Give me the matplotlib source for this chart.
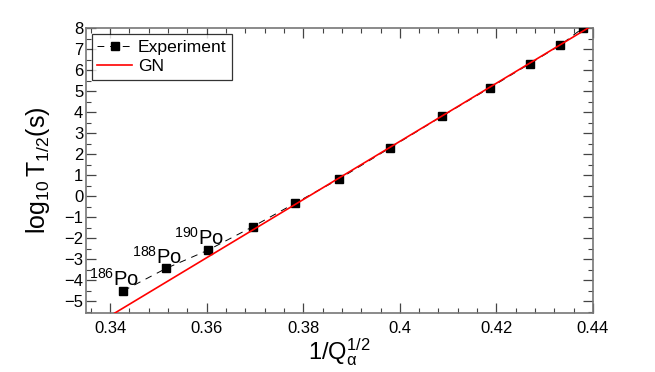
import matplotlib
matplotlib.use("Agg")
import matplotlib.pyplot as plt
from matplotlib.ticker import AutoMinorLocator, MultipleLocator, FuncFormatter

plt.rcParams['font.family'] = ['Liberation Sans', 'DejaVu Sans']
plt.rcParams['mathtext.fontset'] = 'custom'
plt.rcParams['mathtext.rm'] = 'Liberation Sans'
plt.rcParams['mathtext.it'] = 'Liberation Sans'
plt.rcParams['mathtext.default'] = 'regular'

# Data
exp_x = [0.3427, 0.3516, 0.3603, 0.3695, 0.3782, 0.3874, 0.3980, 0.4088,
         0.4187, 0.4269, 0.4332, 0.4379]
exp_y = [-4.51, -3.44, -2.57, -1.46, -0.35, 0.81, 2.30, 3.81,
         5.16, 6.30, 7.18, 8.00]
gn_x = [0.3400, 0.4400]
gn_y = [-5.70, 8.14]
iso_labels = ['186', '188', '190']

fig = plt.figure(figsize=(6.55, 3.72), dpi=100)
ax = fig.add_axes([0.1313, 0.1594, 0.774, 0.7653])

ax.plot(exp_x, exp_y, color='black', lw=0.7, ls=(0, (7, 6)), marker='s',
        markersize=5.1, label='Experiment', zorder=3)
ax.plot(gn_x, gn_y, color='#ff0000', lw=1.2, label='GN', zorder=4)

for i, lab in enumerate(iso_labels):
    ax.annotate(r'$^{%s}$Po' % lab, xy=(exp_x[i], exp_y[i]),
                xytext=(16, 5), textcoords='offset pixels',
                ha='right', va='baseline', fontsize=14.5)

ax.set_xlim(0.335, 0.44)
ax.set_ylim(-5.55, 8.0)
ax.xaxis.set_major_locator(MultipleLocator(0.02))
ax.xaxis.set_minor_locator(AutoMinorLocator(5))
ax.yaxis.set_major_locator(MultipleLocator(1))
ax.yaxis.set_minor_locator(AutoMinorLocator(2))
ax.xaxis.set_major_formatter(FuncFormatter(lambda v, p: '%g' % round(v, 4)))

ax.tick_params(which='both', direction='in', top=True, right=True,
               color='#444444', labelsize=12)
ax.tick_params(which='major', length=7, width=0.9)
ax.tick_params(which='minor', length=3.6, width=0.8)
ax.tick_params(axis='x', pad=6)
ax.tick_params(axis='y', pad=2)
for s in ax.spines.values():
    s.set_color('#777777')
    s.set_linewidth(1.2)

ax.set_xlabel(r'$1/Q_{α}^{1/2}$', fontsize=17, labelpad=0)
ax.set_ylabel(r'$\log_{10}T_{1/2}$(s)', fontsize=18, labelpad=9)

leg = ax.legend(loc='upper left', fontsize=12.6, frameon=True, fancybox=False,
                edgecolor='black', handlelength=2.0, handletextpad=0.3,
                labelspacing=0.25, borderpad=0.3, borderaxespad=0.35)
leg.get_frame().set_linewidth(0.9)

fig.savefig('out.png', dpi=100)
